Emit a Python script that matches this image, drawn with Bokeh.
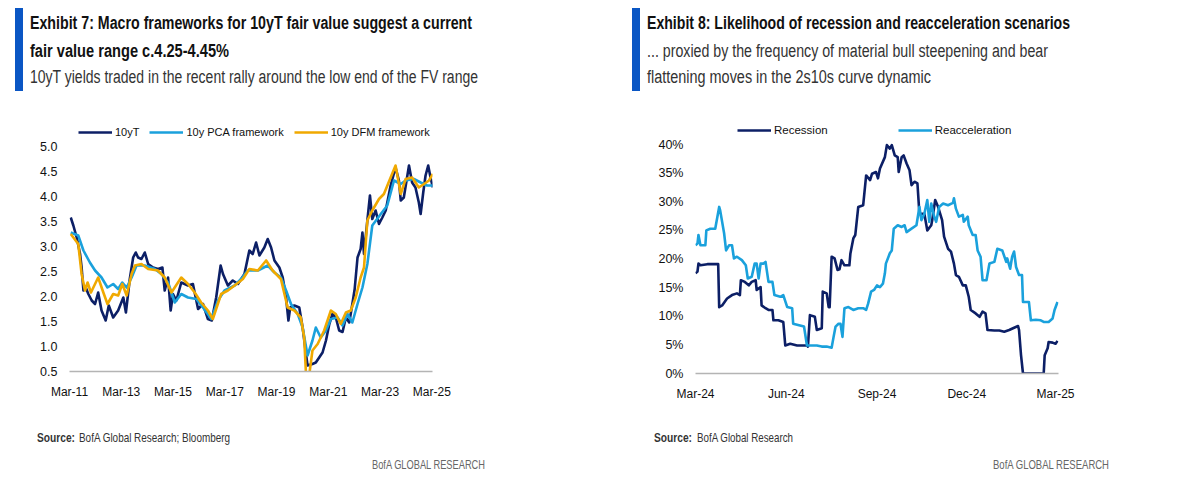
import pandas as pd
from bokeh.plotting import figure
from bokeh.models import (Div, Range1d, FixedTicker, DatetimeTickFormatter,
                          NumeralTickFormatter, PrintfTickFormatter, Legend, LegendItem)
from bokeh.layouts import column, row
from bokeh.embed import file_html
from bokeh.resources import INLINE

# ---------------- Exhibit 7 data (dates as decimal years, yields in %) ----------------
t_10y = [2011.21, 2011.31, 2011.44, 2011.57, 2011.63, 2011.70, 2011.79, 2011.89, 2012.02, 2012.15,
         2012.27, 2012.40, 2012.56, 2012.68, 2012.85, 2013.04, 2013.24, 2013.34, 2013.49, 2013.62,
         2013.72, 2013.81, 2013.94, 2014.07, 2014.20, 2014.39, 2014.58, 2014.75, 2014.84, 2014.97,
         2015.07, 2015.16, 2015.29, 2015.48, 2015.74, 2015.93, 2016.13, 2016.32, 2016.51, 2016.66,
         2016.83, 2017.00, 2017.09, 2017.28, 2017.47, 2017.67, 2017.92, 2018.11, 2018.24, 2018.37,
         2018.50, 2018.69, 2018.82, 2018.95, 2019.08, 2019.27, 2019.40, 2019.53, 2019.62, 2019.69,
         2019.85, 2020.04, 2020.17, 2020.30, 2020.36, 2020.55, 2020.68, 2020.81, 2020.94, 2021.07,
         2021.20, 2021.32, 2021.45, 2021.58, 2021.71, 2021.84, 2021.97, 2022.09, 2022.18, 2022.29,
         2022.41, 2022.48, 2022.54, 2022.67, 2022.77, 2022.86, 2022.99, 2023.12, 2023.25, 2023.38,
         2023.57, 2023.76, 2023.89, 2023.96, 2024.08, 2024.28, 2024.40, 2024.53, 2024.66, 2024.73,
         2024.83, 2024.92, 2025.02, 2025.11, 2025.20]
v_10y = [3.58, 3.42, 3.18, 2.85, 2.58, 2.12, 2.18, 2.05, 1.92, 1.85,
         2.08, 1.72, 1.52, 1.82, 1.58, 1.72, 1.98, 1.68, 2.35, 2.78,
         2.88, 2.78, 2.75, 2.88, 2.65, 2.58, 2.55, 2.58, 2.12, 2.38,
         1.72, 2.05, 1.92, 2.28, 2.22, 2.25, 1.75, 1.85, 1.55, 1.52,
         1.98, 2.62, 2.45, 2.22, 2.32, 2.25, 2.45, 2.92, 2.85, 3.08,
         2.82, 2.98, 3.15, 2.98, 2.72, 2.58, 2.38, 1.98, 1.52, 1.78,
         1.82, 1.78, 1.38, 0.85, 0.62, 0.65, 0.68, 0.78, 0.88, 1.12,
         1.45, 1.65, 1.58, 1.32, 1.29, 1.58, 1.48, 1.85, 2.15, 2.78,
         2.95, 3.28, 2.85, 3.52, 4.02, 3.55, 3.72, 3.45, 3.58, 3.72,
         4.22, 4.58, 4.32, 3.92, 3.98, 4.62, 4.28, 4.18, 3.88, 3.65,
         4.08, 4.42, 4.62, 4.38, 4.18]

t_pca = [2011.21, 2011.50, 2011.70, 2011.95, 2012.15, 2012.40, 2012.63, 2012.85, 2013.04, 2013.20,
         2013.37, 2013.56, 2013.75, 2014.07, 2014.46, 2014.71, 2014.97, 2015.23, 2015.48, 2015.74,
         2016.06, 2016.32, 2016.64, 2016.90, 2017.15, 2017.54, 2017.79, 2018.05, 2018.44, 2018.82,
         2019.08, 2019.33, 2019.53, 2019.72, 2019.98, 2020.17, 2020.36, 2020.55, 2020.68, 2020.87,
         2021.07, 2021.26, 2021.52, 2021.71, 2021.90, 2022.09, 2022.29, 2022.48, 2022.67, 2022.86,
         2023.19, 2023.44, 2023.70, 2023.96, 2024.15, 2024.47, 2024.73, 2024.98, 2025.20]
v_pca = [3.28, 3.22, 2.92, 2.68, 2.52, 2.38, 2.18, 2.25, 2.15, 2.28,
         2.18, 2.38, 2.62, 2.62, 2.55, 2.45, 2.28, 1.88, 2.05, 1.98,
         1.95, 1.78, 1.55, 1.92, 2.12, 2.22, 2.35, 2.52, 2.52, 2.62,
         2.48, 2.38, 2.12, 1.85, 1.65, 1.38, 0.82, 1.12, 1.38, 1.18,
         1.32, 1.55, 1.58, 1.42, 1.65, 1.48, 1.85, 2.18, 2.65, 3.42,
         3.65, 3.82, 4.32, 4.25, 4.32, 4.35, 4.28, 4.22, 4.22]

t_dfm = [2011.21, 2011.50, 2011.63, 2011.76, 2011.86, 2011.99, 2012.27, 2012.47, 2012.63, 2012.85,
         2013.04, 2013.20, 2013.37, 2013.56, 2013.69, 2013.94, 2014.20, 2014.58, 2014.84, 2015.10,
         2015.48, 2015.74, 2016.00, 2016.25, 2016.51, 2016.70, 2017.02, 2017.28, 2017.54, 2017.86,
         2018.11, 2018.44, 2018.76, 2019.01, 2019.33, 2019.59, 2019.85, 2020.10, 2020.23, 2020.30,
         2020.43, 2020.55, 2020.75, 2021.00, 2021.26, 2021.45, 2021.64, 2021.84, 2022.03, 2022.22,
         2022.41, 2022.54, 2022.67, 2022.86, 2023.12, 2023.31, 2023.57, 2023.76, 2023.96, 2024.15,
         2024.40, 2024.66, 2024.86, 2025.05, 2025.20]
v_dfm = [3.25, 3.05, 2.45, 2.12, 2.28, 2.08, 2.38, 2.08, 1.85, 2.05,
         2.02, 2.25, 2.02, 2.45, 2.62, 2.65, 2.55, 2.52, 2.38, 2.08,
         2.38, 2.25, 2.08, 1.88, 1.72, 1.55, 2.05, 2.12, 2.22, 2.35,
         2.55, 2.52, 2.72, 2.52, 2.35, 1.78, 1.72, 1.58, 1.18, 0.45,
         0.45, 0.92, 1.05, 1.32, 1.72, 1.65, 1.45, 1.68, 1.72, 1.98,
         2.38, 2.58, 3.52, 3.72, 3.95, 4.05, 4.38, 4.62, 4.05, 4.35,
         4.38, 4.18, 4.25, 4.32, 4.45]

left_ticks = ["Mar-11", "Mar-13", "Mar-15", "Mar-17", "Mar-19", "Mar-21", "Mar-23", "Mar-25"]
left_yticks = [0.5, 1.0, 1.5, 2.0, 2.5, 3.0, 3.5, 4.0, 4.5, 5.0]

# ---------------- Exhibit 8 data (days since 1-Mar-2024, share in %) ----------------
d_rec = [0, 2, 3, 5, 12, 18, 23, 24, 27, 32, 37, 42, 45, 46, 50, 54, 57, 61, 62, 66,
         67, 71, 74, 78, 79, 84, 89, 91, 96, 103, 109, 113, 114, 116, 121, 123, 128, 129, 133, 135,
         136, 138, 141, 144, 146, 148, 151, 156, 157, 160, 162, 165, 170, 173, 177, 179, 183, 185, 187, 192,
         194, 197, 199, 202, 205, 206, 209, 211, 214, 217, 219, 222, 225, 227, 232, 235, 239, 240, 243, 246,
         247, 250, 252, 256, 259, 262, 264, 267, 271, 274, 277, 279, 284, 288, 291, 294, 296, 303, 308, 313,
         318, 323, 327, 328, 330, 332, 341, 353, 354, 357, 358, 362, 365, 367]
v_rec = [17.5, 17.8, 19.2, 18.9, 19.1, 19.1, 19.1, 11.6, 11.9, 13.1, 13.7, 14.0, 13.7, 16.3, 16.0, 15.4, 16.0, 16.3, 14.6, 15.1,
         11.9, 11.4, 11.1, 11.1, 9.3, 9.3, 9.0, 4.9, 5.2, 4.9, 4.9, 4.9, 4.7, 10.2, 9.9, 7.6, 7.9, 14.3, 14.0, 11.6,
         11.6, 20.4, 20.1, 18.1, 18.2, 19.8, 18.9, 18.9, 20.9, 23.6, 24.2, 29.1, 29.4, 34.6, 33.8, 34.9, 35.2, 34.1, 35.8, 37.8,
         39.9, 39.3, 39.9, 38.1, 37.8, 35.2, 37.8, 38.1, 36.7, 35.5, 32.9, 33.5, 33.2, 27.9, 27.9, 25.0, 25.9, 26.8, 30.3, 29.1,
         28.5, 26.8, 23.9, 21.8, 21.3, 19.2, 17.2, 16.9, 15.4, 15.4, 13.4, 11.1, 10.5, 9.9, 10.8, 10.5, 7.6, 7.5, 7.5, 7.3,
         7.6, 8.0, 8.3, 7.6, 3.2, 0.0, 0.0, 0.0, 3.2, 4.4, 5.5, 5.4, 5.2, 5.7]

d_acc = [0, 2, 3, 5, 10, 11, 15, 20, 24, 25, 29, 31, 34, 37, 39, 42, 47, 51, 53, 57,
         60, 62, 64, 66, 69, 71, 74, 78, 80, 86, 89, 93, 98, 99, 106, 110, 113, 118, 123, 128,
         133, 138, 140, 142, 145, 147, 149, 151, 155, 160, 165, 170, 173, 175, 178, 181, 184, 187, 190, 192,
         193, 197, 199, 201, 205, 209, 212, 214, 219, 224, 227, 229, 232, 235, 237, 239, 242, 244, 247, 251,
         256, 261, 262, 264, 267, 271, 272, 276, 277, 281, 284, 286, 289, 291, 295, 298, 303, 306, 311, 315,
         316, 319, 321, 323, 325, 328, 331, 332, 338, 340, 345, 350, 353, 358, 362, 364, 367]
v_acc = [22.4, 22.7, 24.2, 22.4, 22.4, 25.0, 25.3, 25.3, 29.1, 28.5, 24.5, 21.5, 22.4, 22.4, 20.1, 20.4, 19.8, 18.9, 16.6, 16.9,
         19.2, 19.2, 16.6, 19.2, 19.2, 19.5, 16.0, 16.0, 13.7, 13.4, 13.7, 11.6, 11.4, 8.7, 8.4, 8.2, 4.9, 4.9, 4.9, 4.7,
         4.7, 4.5, 6.4, 8.2, 8.7, 8.7, 6.4, 11.4, 11.6, 11.1, 11.4, 11.4, 11.1, 12.2, 14.3, 14.6, 15.4, 15.1, 15.7, 17.5,
         19.2, 21.0, 21.5, 25.3, 25.9, 25.6, 25.9, 24.7, 25.3, 25.9, 29.1, 26.8, 27.9, 30.3, 26.5, 29.7, 27.4, 26.5, 29.1, 29.7,
         29.4, 29.8, 30.6, 28.8, 27.4, 27.7, 26.5, 27.4, 25.9, 24.2, 24.2, 21.5, 20.4, 16.3, 16.3, 19.2, 19.5, 21.8, 21.5, 19.5,
         20.1, 18.3, 20.4, 21.3, 18.6, 17.2, 17.2, 12.5, 12.5, 9.3, 9.4, 9.3, 9.0, 9.0, 9.6, 11.1, 12.5]

right_ticks = ["Mar-24", "Jun-24", "Sep-24", "Dec-24", "Mar-25"]
right_yticks = [0, 5, 10, 15, 20, 25, 30, 35, 40]

# ---------------- texts ----------------
title7 = ["Exhibit 7: Macro frameworks for 10yT fair value suggest a current",
          "fair value range c.4.25-4.45%"]
sub7 = ["10yT yields traded in the recent rally around the low end of the FV range"]
title8 = ["Exhibit 8: Likelihood of recession and reacceleration scenarios"]
sub8 = ["... proxied by the frequency of material bull steepening and bear",
        "flattening moves in the 2s10s curve dynamic"]
src_label = "Source:"
src7 = "BofA Global Research; Bloomberg"
src8 = "BofA Global Research"
brand_text = "BofA GLOBAL RESEARCH"

# ---------------- styling ----------------
NAVY = "#0c1f66"
LBLUE = "#1aa1dc"
GOLD = "#f0a900"
BAR = "#0a56c4"
HFONT = "Open Sans"
AFONT = "Liberation Sans"


def dec_to_dt(ts):
    out = []
    for t in ts:
        y = int(t)
        out.append(pd.Timestamp(year=y, month=1, day=1) + pd.Timedelta(days=(t - y) * 365.25))
    return out


def days_to_dt(ds):
    base = pd.Timestamp("2024-03-01")
    return [base + pd.Timedelta(days=d) for d in ds]


def tick_ms(labels):
    return [pd.Timestamp(pd.to_datetime(l, format="%b-%y")).value // 10**6 for l in labels]


def style(p, ticks, yticks, yfmt):
    p.outline_line_color = None
    p.xgrid.grid_line_color = None
    p.ygrid.grid_line_color = None
    p.background_fill_color = "white"
    p.border_fill_color = "white"
    xa = p.xaxis[0]
    xa.ticker = FixedTicker(ticks=ticks)
    xa.formatter = DatetimeTickFormatter(days="%b-%y", months="%b-%y", years="%b-%y")
    xa.axis_line_color = "#b4b4b4"
    xa.axis_line_width = 1.5
    xa.major_tick_line_color = None
    xa.minor_tick_line_color = None
    xa.major_tick_out = 0
    xa.minor_tick_out = 0
    xa.major_label_standoff = 13
    xa.major_label_text_font = AFONT
    xa.major_label_text_font_size = "12px"
    xa.major_label_text_color = "#111111"
    ya = p.yaxis[0]
    ya.ticker = FixedTicker(ticks=yticks)
    ya.formatter = yfmt
    ya.axis_line_color = None
    ya.major_tick_line_color = None
    ya.minor_tick_line_color = None
    ya.major_tick_out = 0
    ya.minor_tick_out = 0
    ya.major_label_standoff = 12
    ya.major_label_text_font = AFONT
    ya.major_label_text_font_size = "12.5px"
    ya.major_label_text_color = "#111111"


def make_legend(items, loc, spacing, size):
    return Legend(items=items, orientation="horizontal", location=loc,
                  border_line_color=None, background_fill_alpha=0, padding=0, margin=0,
                  spacing=spacing, label_standoff=3, glyph_width=34, glyph_height=18,
                  label_height=18, label_text_font=AFONT, label_text_font_size=size,
                  label_text_color="#111111")


# ---------------- Exhibit 7 ----------------
p1 = figure(width=610, height=298, x_axis_type="datetime", output_backend="svg",
            toolbar_location=None,
            x_range=Range1d(pd.Timestamp("2011-03-01"), pd.Timestamp("2025-03-10")),
            y_range=Range1d(0.5, 5.48),
            min_border_left=61, min_border_right=186, min_border_top=10, min_border_bottom=39)
r_10y = p1.line(dec_to_dt(t_10y), v_10y, line_color=NAVY, line_width=2.6, line_join="round")
r_pca = p1.line(dec_to_dt(t_pca), v_pca, line_color=LBLUE, line_width=2.6, line_join="round")
r_dfm = p1.line(dec_to_dt(t_dfm), v_dfm, line_color=GOLD, line_width=2.6, line_join="round")
style(p1, tick_ms(left_ticks), left_yticks, NumeralTickFormatter(format="0.0"))
p1.add_layout(make_legend([LegendItem(label="10yT", renderers=[r_10y]),
                           LegendItem(label="10y PCA framework", renderers=[r_pca]),
                           LegendItem(label="10y DFM framework", renderers=[r_dfm])],
                          (9, 230), 10, "11px"))

# ---------------- Exhibit 8 ----------------
p2 = figure(width=565, height=298, x_axis_type="datetime", output_backend="svg",
            toolbar_location=None,
            x_range=Range1d(pd.Timestamp("2024-03-01"), pd.Timestamp("2025-03-04")),
            y_range=Range1d(0, 44.2),
            min_border_left=77, min_border_right=125, min_border_top=8, min_border_bottom=37)
r_rec = p2.line(days_to_dt(d_rec), v_rec, line_color=NAVY, line_width=2.6, line_join="round")
r_acc = p2.line(days_to_dt(d_acc), v_acc, line_color=LBLUE, line_width=2.6, line_join="round")
style(p2, tick_ms(right_ticks), right_yticks, PrintfTickFormatter(format="%d%%"))
p2.add_layout(make_legend([LegendItem(label="Recession", renderers=[r_rec]),
                           LegendItem(label="Reacceleration", renderers=[r_acc])],
                          (42, 234), 70, "11.5px"))


# ---------------- header / footer text blocks (inline SVG text, squeezed like the original) ----------------
def txt(x, y, length, size, weight, color, content):
    return (f'<text x="{x}" y="{y}" textLength="{length}" lengthAdjust="spacingAndGlyphs" '
            f'font-family="{HFONT}" font-size="{size}" font-weight="{weight}" fill="{color}">{content}</text>')


def svg_div(w, h, parts):
    html = (f'<svg xmlns="http://www.w3.org/2000/svg" width="{w}" height="{h}" style="display:block">'
            + "".join(parts) + "</svg>")
    return Div(text=html, width=w, height=h, margin=0)


hdr7 = svg_div(610, 104, [
    f'<rect x="7" y="0" width="8" height="83" fill="{BAR}"/>',
    txt(22, 20.5, 442, 17.5, 700, "#111111", title7[0]),
    txt(22, 48.7, 199, 17.5, 700, "#111111", title7[1]),
    txt(22, 74.7, 448, 18, 400, "#333333", sub7[0]),
])
hdr8 = svg_div(565, 104, [
    f'<rect x="14" y="0" width="8" height="83" fill="{BAR}"/>',
    txt(29, 20.5, 423, 17.5, 700, "#111111", title8[0]),
    txt(29, 48.7, 401, 18, 400, "#333333", sub8[0]),
    txt(29, 74.7, 284, 18, 400, "#333333", sub8[1]),
])


def footer(w, lx, llen, sx, slen, stext, bx, blen):
    return svg_div(w, 66, [
        txt(lx, 32, llen, 12, 700, "#333333", src_label),
        txt(sx, 32, slen, 13, 400, "#333333", stext),
        txt(bx, 59, blen, 13.5, 400, "#666666", brand_text),
    ])


ftr7 = footer(610, 29, 38, 71, 151, src7, 364, 113)
ftr8 = footer(565, 36, 38, 79, 96, src8, 375, 116)

left = column(hdr7, p1, ftr7, spacing=0, margin=0)
right = column(hdr8, p2, ftr8, spacing=0, margin=0)
layout = row(left, right, spacing=0, margin=(8, 0, 0, 8))

open("out.html", "w").write(file_html(layout, INLINE))
